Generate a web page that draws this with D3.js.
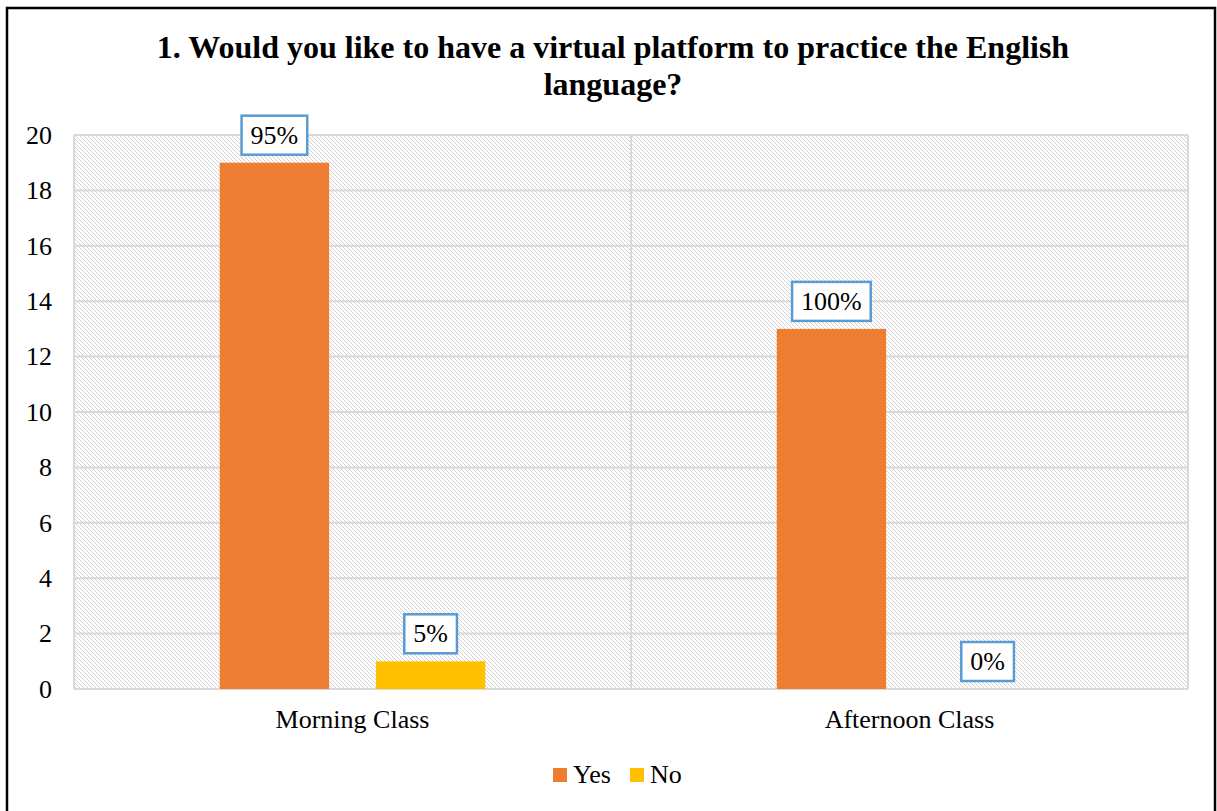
<!DOCTYPE html>
<html>
<head>
<meta charset="utf-8">
<script src="https://cdn.jsdelivr.net/npm/d3@7"></script>
<style>
  html, body { margin: 0; padding: 0; background: #fff; }
  svg { display: block; }
  text { font-family: "Liberation Serif", "Times New Roman", serif; fill: #000; }
</style>
</head>
<body>
<svg id="chart" width="1217" height="811"></svg>
<script>
// Survey answers per class (number of students)
const categories = ["Morning Class", "Afternoon Class"];
const seriesNames = ["Yes", "No"];
const yesValues = [19, 13];
const noValues = [1, 0];
const yesLabels = ["95%", "100%"];
const noLabels = ["5%", "0%"];
const yTicks = [0, 2, 4, 6, 8, 10, 12, 14, 16, 18, 20];
const titleLines = [
  "1. Would you like to have a virtual platform to practice the English",
  "language?"
];

const colors = { Yes: "#ED7D31", No: "#FFC000" };
const plot = { left: 74, right: 1188, top: 135, bottom: 689 };
const FS = 26;

const svg = d3.select("#chart");

// Diagonal hatch used as the plot-area background
const defs = svg.append("defs");
const pat = defs.append("pattern")
  .attr("id", "hatch")
  .attr("patternUnits", "userSpaceOnUse")
  .attr("width", 4).attr("height", 4);
pat.append("rect").attr("width", 4).attr("height", 4).attr("fill", "#fff");
pat.append("path")
  .attr("d", "M-1,-1 L5,5 M-1,3 L1,5 M3,-1 L5,1")
  .attr("stroke", "#d2d2d2").attr("stroke-width", 1);

// Outer frame
svg.append("rect")
  .attr("x", 7).attr("y", 8)
  .attr("width", 1208).attr("height", 830)
  .attr("fill", "#fff").attr("stroke", "#000").attr("stroke-width", 2.5);

// Title
svg.append("text")
  .attr("text-anchor", "middle")
  .attr("font-weight", "bold")
  .attr("font-size", 32)
  .selectAll("tspan")
  .data(titleLines)
  .join("tspan")
  .attr("x", 613)
  .attr("y", (d, i) => 58 + i * 37)
  .text(d => d);

// Scales
const x0 = d3.scaleBand().domain(categories).range([plot.left, plot.right]).padding(0);
const x1 = d3.scaleBand().domain(seriesNames).range([0, x0.bandwidth()])
  .paddingInner(0.3).paddingOuter(0.933);
const y = d3.scaleLinear().domain([0, 20]).range([plot.bottom, plot.top]);

// Plot area background
svg.append("rect")
  .attr("x", plot.left).attr("y", plot.top)
  .attr("width", plot.right - plot.left).attr("height", plot.bottom - plot.top)
  .attr("fill", "url(#hatch)");

// Horizontal gridlines
svg.append("g")
  .selectAll("line")
  .data(yTicks)
  .join("line")
  .attr("x1", plot.left).attr("x2", plot.right)
  .attr("y1", d => y(d)).attr("y2", d => y(d))
  .attr("stroke", "#d9d9d9").attr("stroke-width", 2);

// Vertical gridlines at category boundaries
const bounds = categories.map(c => x0(c)).concat([x0(categories[categories.length - 1]) + x0.bandwidth()]);
svg.append("g")
  .selectAll("line")
  .data(bounds)
  .join("line")
  .attr("x1", d => d).attr("x2", d => d)
  .attr("y1", plot.top).attr("y2", plot.bottom)
  .attr("stroke", "#d9d9d9").attr("stroke-width", 2);

// Y axis labels
const yAxis = d3.axisLeft(y).tickValues(yTicks).tickSize(0).tickPadding(22);
const gy = svg.append("g").attr("transform", `translate(${plot.left},0)`).call(yAxis);
gy.select(".domain").remove();
gy.selectAll("text").attr("font-size", FS).attr("fill", "#000");

// X axis labels
const xAxis = d3.axisBottom(x0).tickSize(0).tickPadding(21);
const gx = svg.append("g").attr("transform", `translate(0,${plot.bottom})`).call(xAxis);
gx.select(".domain").remove();
gx.selectAll("text").attr("font-size", FS).attr("fill", "#000");
gy.attr("font-size", FS);
gx.attr("font-size", FS);

// Bars
const rows = categories.map((c, i) => ({
  category: c,
  items: [
    { key: "Yes", value: yesValues[i], label: yesLabels[i] },
    { key: "No", value: noValues[i], label: noLabels[i] }
  ]
}));

const groups = svg.append("g")
  .selectAll("g")
  .data(rows)
  .join("g")
  .attr("transform", d => `translate(${x0(d.category)},0)`);

groups.selectAll("rect")
  .data(d => d.items)
  .join("rect")
  .attr("x", d => x1(d.key))
  .attr("width", x1.bandwidth())
  .attr("y", d => y(d.value))
  .attr("height", d => y(0) - y(d.value))
  .attr("fill", d => colors[d.key]);

// Data labels in boxed callouts
const labels = groups.selectAll("g.lbl")
  .data(d => d.items)
  .join("g")
  .attr("class", "lbl")
  .attr("transform", d => `translate(${x1(d.key) + x1.bandwidth() / 2},${y(d.value) - 8})`);

labels.each(function (d) {
  const g = d3.select(this);
  const t = g.append("text")
    .attr("text-anchor", "middle")
    .attr("font-size", FS)
    .attr("y", -11)
    .text(d.label);
  const bb = t.node().getBBox();
  const padX = 9, h = 39;
  g.insert("rect", "text")
    .attr("x", -bb.width / 2 - padX)
    .attr("y", -h)
    .attr("width", bb.width + padX * 2)
    .attr("height", h)
    .attr("fill", "#fff")
    .attr("stroke", "#5B9BD5")
    .attr("stroke-width", 2.5);
});

// Legend
const legend = svg.append("g").attr("transform", "translate(553,768)");
const legendItems = [
  { key: "Yes", x: 0 },
  { key: "No", x: 77 }
];
const li = legend.selectAll("g")
  .data(legendItems)
  .join("g")
  .attr("transform", d => `translate(${d.x},0)`);
li.append("rect")
  .attr("width", 14).attr("height", 14)
  .attr("fill", d => colors[d.key]);
li.append("text")
  .attr("x", 20).attr("y", 15)
  .attr("font-size", FS)
  .text(d => d.key);
</script>
</body>
</html>
